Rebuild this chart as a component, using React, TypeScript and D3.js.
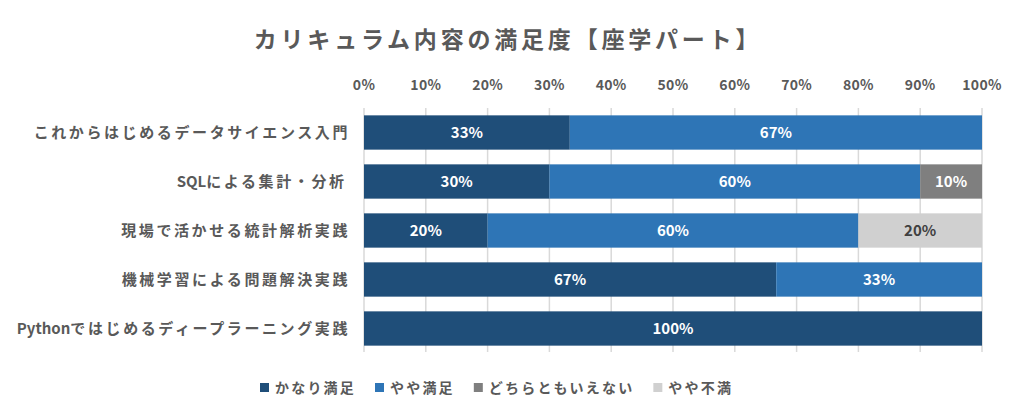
import { useEffect, useRef } from 'react';
import * as d3 from 'd3';

const title = 'カリキュラム内容の満足度【座学パート】';

const categories = [
  'これからはじめるデータサイエンス入門',
  'SQLによる集計・分析 ',
  '現場で活かせる統計解析実践',
  '機械学習による問題解決実践',
  'Pythonではじめるディープラーニング実践',
];

const seriesNames = ['かなり満足', 'やや満足', 'どちらともいえない', 'やや不満'];

// percent of answers per course
const kanariManzoku = [33.3, 30, 20, 66.7, 100];
const yayaManzoku = [66.7, 60, 60, 33.3, 0];
const dochiraTomo = [0, 10, 0, 0, 0];
const yayaFuman = [0, 0, 20, 0, 0];

const tickValues = [0, 10, 20, 30, 40, 50, 60, 70, 80, 90, 100];

// split a label into latin / non-latin runs so only the japanese gets spaced out
const splitRuns = (s: string) => s.match(/[\x20-\x7e]+|[^\x20-\x7e]+/g) || [];

const App = () => {
  const svgRef = useRef<SVGSVGElement>(null);

  useEffect(() => {
    const width = 1024;
    const height = 418;
    const font = '"Noto Sans CJK JP", "Noto Sans", sans-serif';
    const textColor = '#595959';
    const colors = ['#1F4E79', '#2E75B6', '#7F7F7F', '#D0D0D0'];

    const rows = categories.map((c, i) => ({
      name: c,
      [seriesNames[0]]: kanariManzoku[i],
      [seriesNames[1]]: yayaManzoku[i],
      [seriesNames[2]]: dochiraTomo[i],
      [seriesNames[3]]: yayaFuman[i],
    }));

    const svg = d3.select(svgRef.current).attr('width', width).attr('height', height);
    svg.selectAll('*').remove();

    svg.append('rect').attr('width', width).attr('height', height).attr('fill', '#fff');

    const x = d3.scaleLinear().domain([0, 100]).range([364, 982]);
    const y = d3
      .scaleBand()
      .domain(categories)
      .range([108, 353])
      .paddingInner(0.3)
      .paddingOuter(0.15);

    // title
    svg
      .append('text')
      .attr('x', 508)
      .attr('y', 48)
      .attr('text-anchor', 'middle')
      .style('font-family', font)
      .style('font-size', '23px')
      .style('font-weight', 700)
      .style('letter-spacing', '3.8px')
      .style('fill', textColor)
      .text(title);

    // gridlines
    svg
      .append('g')
      .selectAll('line')
      .data(tickValues)
      .enter()
      .append('line')
      .attr('x1', (d) => x(d))
      .attr('x2', (d) => x(d))
      .attr('y1', 108)
      .attr('y2', 352)
      .attr('stroke', '#D9D9D9')
      .attr('stroke-width', 1.5);

    // tick labels on top
    svg
      .append('g')
      .selectAll('text')
      .data(tickValues)
      .enter()
      .append('text')
      .attr('x', (d) => x(d))
      .attr('y', 90)
      .attr('text-anchor', 'middle')
      .style('font-family', font)
      .style('font-size', '14px')
      .style('font-weight', 700)
      .style('letter-spacing', '0.3px')
      .style('fill', textColor)
      .text((d) => `${d}%`);

    // category labels
    const catText = svg
      .append('g')
      .selectAll('text')
      .data(categories)
      .enter()
      .append('text')
      .attr('x', 350)
      .attr('y', (d) => y(d)! + y.bandwidth() / 2)
      .attr('dy', '0.36em')
      .attr('text-anchor', 'end')
      .style('font-family', font)
      .style('font-size', '15px')
      .style('font-weight', 700)
      .style('white-space', 'pre')
      .style('fill', textColor);

    catText
      .selectAll('tspan')
      .data((d) => splitRuns(d))
      .enter()
      .append('tspan')
      .style('letter-spacing', (d) => (/^[\x20-\x7e]+$/.test(d) ? '0px' : '2.6px'))
      .text((d) => d);

    const stack = d3.stack().keys(seriesNames);
    const series = stack(rows as any);

    const layers = svg
      .append('g')
      .selectAll('g')
      .data(series)
      .enter()
      .append('g')
      .attr('fill', (d, i) => colors[i]);

    layers
      .selectAll('rect')
      .data((d) => d.filter((s) => s[1] - s[0] > 0))
      .enter()
      .append('rect')
      .attr('x', (d) => x(d[0]))
      .attr('width', (d) => x(d[1]) - x(d[0]))
      .attr('y', (d) => y((d.data as any).name)!)
      .attr('height', y.bandwidth());

    layers
      .selectAll('text')
      .data((d, i) => d.filter((s) => s[1] - s[0] > 0).map((s) => ({ s, i })))
      .enter()
      .append('text')
      .attr('x', (d) => x((d.s[0] + d.s[1]) / 2))
      .attr('y', (d) => y((d.s.data as any).name)! + y.bandwidth() / 2)
      .attr('dy', '0.36em')
      .attr('text-anchor', 'middle')
      .style('font-family', font)
      .style('font-size', '15px')
      .style('font-weight', 700)
      .style('fill', (d) => (d.i === 3 ? '#404040' : '#fff'))
      .text((d) => `${Math.round(d.s[1] - d.s[0])}%`);

    // legend
    const legend = svg.append('g');
    let lx = 0;
    seriesNames.forEach((name, i) => {
      legend
        .append('rect')
        .attr('x', lx)
        .attr('y', 383)
        .attr('width', 9)
        .attr('height', 9)
        .attr('fill', colors[i]);
      const t = legend
        .append('text')
        .attr('x', lx + 15)
        .attr('y', 388)
        .attr('dy', '0.36em')
        .style('font-family', font)
        .style('font-size', '14px')
        .style('font-weight', 700)
        .style('letter-spacing', '2.2px')
        .style('fill', textColor)
        .text(name);
      const w = (t.node() as SVGTextElement).getComputedTextLength();
      lx += 15 + w + 19;
    });
    const legendWidth = lx - 19;
    legend.attr('transform', `translate(${Math.round(497 - legendWidth / 2)},0)`);
  }, []);

  return (
    <div style={{ position: 'absolute', left: 0, top: 0 }}>
      <svg ref={svgRef} style={{ display: 'block' }}></svg>
    </div>
  );
};

export default App;
